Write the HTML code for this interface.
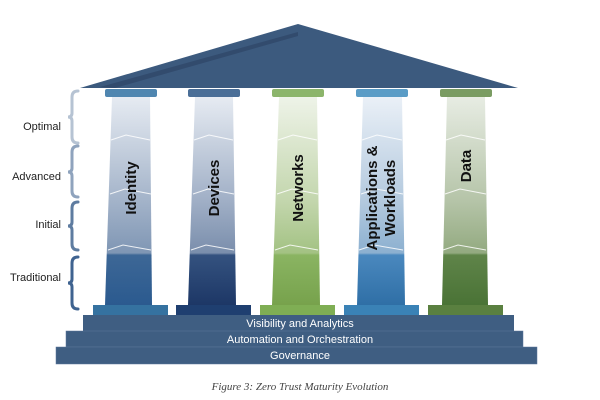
<!DOCTYPE html>
<html><head><style>body{margin:0;background:#fff}svg{display:block}</style></head><body>
<svg width="600" height="400" viewBox="0 0 600 400" xmlns="http://www.w3.org/2000/svg" font-family="Liberation Sans, sans-serif">
<defs>
<linearGradient id="gI" x1="0" y1="0" x2="0" y2="1"><stop offset="0" stop-color="#e6ebf2"/><stop offset="0.5" stop-color="#a3b3c9"/><stop offset="0.75" stop-color="#7f96b4"/><stop offset="0.76" stop-color="#3d6796"/><stop offset="1" stop-color="#2b5a8f"/></linearGradient>
<linearGradient id="gD" x1="0" y1="0" x2="0" y2="1"><stop offset="0" stop-color="#e6ebf2"/><stop offset="0.5" stop-color="#a0afc6"/><stop offset="0.75" stop-color="#7a8eac"/><stop offset="0.76" stop-color="#34527f"/><stop offset="1" stop-color="#1d3766"/></linearGradient>
<linearGradient id="gN" x1="0" y1="0" x2="0" y2="1"><stop offset="0" stop-color="#eef3e8"/><stop offset="0.5" stop-color="#c3d6ad"/><stop offset="0.75" stop-color="#a3c283"/><stop offset="0.76" stop-color="#8ab462"/><stop offset="1" stop-color="#77a24c"/></linearGradient>
<linearGradient id="gA" x1="0" y1="0" x2="0" y2="1"><stop offset="0" stop-color="#eaf0f7"/><stop offset="0.5" stop-color="#b3c9de"/><stop offset="0.75" stop-color="#8cb0d0"/><stop offset="0.76" stop-color="#4a88be"/><stop offset="1" stop-color="#2f6fa6"/></linearGradient>
<linearGradient id="gT" x1="0" y1="0" x2="0" y2="1"><stop offset="0" stop-color="#e7ece3"/><stop offset="0.5" stop-color="#b5c4a8"/><stop offset="0.75" stop-color="#93aa80"/><stop offset="0.76" stop-color="#5f8449"/><stop offset="1" stop-color="#4a7336"/></linearGradient>
</defs>
<polygon points="80,88 298,24 518,88" fill="#3c5a7e"/>
<polygon points="100,87 298,32 298,36 115,88" fill="#2d4566" opacity="0.7"/>
<g font-size="11" fill="#222" text-anchor="end">
<text x="61" y="130">Optimal</text><text x="61" y="180">Advanced</text><text x="61" y="228">Initial</text><text x="61" y="281">Traditional</text>
</g>
<g fill="none" stroke-width="3" stroke-linecap="round">
<path d="M78,91 q-6,0 -6,6 v16 q0,4 -4,4 q4,0 4,4 v16 q0,6 6,6" stroke="#b6c3d3"/>
<path d="M78,146 q-6,0 -6,6 v16 q0,4 -4,4 q4,0 4,4 v15 q0,6 6,6" stroke="#8fa3bd"/>
<path d="M78,202 q-6,0 -6,6 v14 q0,4 -4,4 q4,0 4,4 v14 q0,6 6,6" stroke="#5e7ca0"/>
<path d="M78,257 q-6,0 -6,6 v16 q0,4 -4,4 q4,0 4,4 v16 q0,6 6,6" stroke="#3f6390"/>
</g>
<g>
<rect x="105" y="89" width="52" height="8" rx="2" fill="#4f86b0"/>
<polygon points="112,97 150,97 152,305 105,305" fill="url(#gI)"/>
<rect x="93" y="305" width="75" height="10" fill="#3572a0"/>
<rect x="188" y="89" width="52" height="8" rx="2" fill="#4a6e97"/>
<polygon points="195,97 233,97 236,305 188,305" fill="url(#gD)"/>
<rect x="176" y="305" width="75" height="10" fill="#1f3f70"/>
<rect x="272" y="89" width="52" height="8" rx="2" fill="#8cb56b"/>
<polygon points="279,97 317,97 320,305 272,305" fill="url(#gN)"/>
<rect x="260" y="305" width="75" height="10" fill="#7fae54"/>
<rect x="356" y="89" width="52" height="8" rx="2" fill="#5a9cc6"/>
<polygon points="363,97 402,97 405,305 357,305" fill="url(#gA)"/>
<rect x="344" y="305" width="75" height="10" fill="#3a82b6"/>
<rect x="440" y="89" width="52" height="8" rx="2" fill="#7a9c62"/>
<polygon points="447,97 485,97 488,305 442,305" fill="url(#gT)"/>
<rect x="428" y="305" width="75" height="10" fill="#5a8040"/>
</g>
<g fill="none" stroke="#fff" stroke-width="1" opacity="0.85">
<path d="M111,140 l15,-5 l24,5 M194,140 l15,-5 l24,5 M278,140 l15,-5 l24,5 M362,140 l15,-5 l25,5 M446,140 l15,-5 l24,5"/>
<path d="M110,194 l15,-5 l26,5 M193,194 l15,-5 l26,5 M277,194 l15,-5 l26,5 M361,194 l15,-5 l27,5 M445,194 l15,-5 l26,5"/>
<path d="M108,250 l15,-5 l28,5 M191,250 l15,-5 l28,5 M275,250 l15,-5 l28,5 M359,250 l15,-5 l29,5 M443,250 l15,-5 l28,5"/>
</g>
<g font-size="15" font-weight="bold" fill="#111" text-anchor="middle">
<text transform="translate(136,188) rotate(-90)">Identity</text>
<text transform="translate(219,188) rotate(-90)">Devices</text>
<text transform="translate(303,188) rotate(-90)">Networks</text>
<text transform="translate(377,198) rotate(-90)">Applications &amp;</text>
<text transform="translate(395,198) rotate(-90)">Workloads</text>
<text transform="translate(471,166) rotate(-90)">Data</text>
</g>
<rect x="83" y="315" width="431" height="16" fill="#3f5e82"/>
<rect x="66" y="331" width="457" height="16" fill="#3f5e82" stroke="#5a7699" stroke-width="0.5"/>
<rect x="56" y="347" width="481" height="17" fill="#3f5e82" stroke="#5a7699" stroke-width="0.5"/>
<g font-size="11" fill="#fff" text-anchor="middle">
<text x="300" y="327">Visibility and Analytics</text>
<text x="300" y="343">Automation and Orchestration</text>
<text x="300" y="359">Governance</text>
</g>
<text x="300" y="390" font-family="Liberation Serif, serif" font-style="italic" font-size="11" fill="#444" text-anchor="middle">Figure 3: Zero Trust Maturity Evolution</text>
</svg>
</body></html>
